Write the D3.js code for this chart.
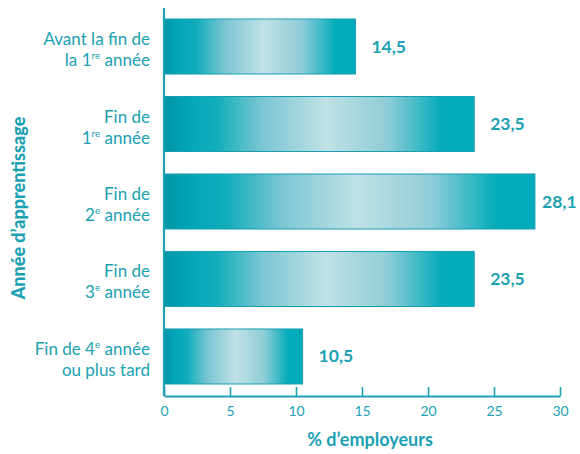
<!DOCTYPE html>
<html><head><meta charset="utf-8">
<script src="https://cdn.jsdelivr.net/npm/d3@7"></script>
<style>body{margin:0;background:#fff}svg{display:block}</style>
</head><body>
<svg id="c" width="580" height="454"></svg>
<script>
const categories = [
  [["Avant la fin de"], ["la 1", "re", " année"]],
  [["Fin de"], ["1", "re", " année"]],
  [["Fin de"], ["2", "e", " année"]],
  [["Fin de"], ["3", "e", " année"]],
  [["Fin de 4", "e", " année"], ["ou plus tard"]]
];
const values = [14.5, 23.5, 28.1, 23.5, 10.5];
const valueLabels = ["14,5", "23,5", "28,1", "23,5", "10,5"];
const xTicks = [0, 5, 10, 15, 20, 25, 30];
const xTitle = "% d’employeurs";
const yTitle = "Année d’apprentissage";

const teal = "#1ba1b3";
const font = "Lato, 'Open Sans', sans-serif";
const svg = d3.select("#c");
const x0 = 164, x1 = 560, yTop = 8, yBot = 396;
const x = d3.scaleLinear().domain([0, 30]).range([x0, x1]);
const y = d3.scaleBand().domain(d3.range(values.length)).range([8.15, 394.85]).paddingInner(0.29).paddingOuter(0.14);

const defs = svg.append("defs");
const g = defs.append("linearGradient").attr("id", "bg").attr("x1", 0).attr("x2", 1).attr("y1", 0).attr("y2", 0);
[[0, "#0095a7"], [0.08, "#00a6b7"], [0.17, "#12adbc"], [0.32, "#7cc7d2"], [0.52, "#c0e1e7"], [0.72, "#8fcdd7"], [0.9, "#00abba"], [1, "#00abba"]]
  .forEach(([o, c]) => g.append("stop").attr("offset", o).attr("stop-color", c));

svg.selectAll("rect.bar").data(values).join("rect").attr("class", "bar")
  .attr("x", x(0)).attr("y", (d, i) => y(i))
  .attr("width", d => x(d) - x(0)).attr("height", y.bandwidth())
  .attr("fill", "url(#bg)").attr("stroke", "#1a9db0").attr("stroke-width", 1);

// axes lines
svg.append("line").attr("x1", x0).attr("x2", x0).attr("y1", yTop).attr("y2", yBot)
  .attr("stroke", teal).attr("stroke-width", 2.2);
const xAxis = d3.axisBottom(x).tickValues(xTicks).tickSize(-9).tickSizeOuter(0).tickFormat(d => d);
const ax = svg.append("g").attr("transform", `translate(0,${yBot})`).call(xAxis);
ax.select(".domain").attr("stroke", teal).attr("stroke-width", 2.2);
ax.selectAll(".tick line").attr("stroke", teal).attr("stroke-width", 1.6);
ax.selectAll(".tick text").attr("fill", teal).attr("font-family", font).attr("font-size", 14).attr("dy", null).attr("y", 20);

// value labels
svg.selectAll("text.val").data(values).join("text").attr("class", "val")
  .attr("x", d => Math.min(x(d) + 16, 542)).attr("y", (d, i) => y(i) + y.bandwidth() / 2 + 6)
  .attr("fill", teal).attr("font-family", font).attr("font-weight", "bold").attr("font-size", 17.5)
  .text((d, i) => valueLabels[i]);

// category labels
categories.forEach((lines, i) => {
  const cy = y(i) + y.bandwidth() / 2;
  lines.forEach((parts, li) => {
    const t = svg.append("text").attr("x", 150).attr("y", cy - 1.5 + (li ? 21 : 0))
      .attr("text-anchor", "end").attr("fill", teal).attr("font-family", font).attr("font-size", 17);
    parts.forEach((p, pi) => {
      const ts = t.append("tspan").text(p);
      if (parts.length === 3 && pi === 1) ts.attr("font-size", 10).attr("dy", -7);
      if (parts.length === 3 && pi === 2) ts.attr("dy", 7);
    });
  });
});

svg.append("text").attr("transform", "translate(25,208) rotate(-90)").attr("text-anchor", "middle")
  .attr("fill", teal).attr("font-family", font).attr("font-weight", 900).attr("font-size", 18).text(yTitle);
svg.append("text").attr("x", 370).attr("y", 446).attr("text-anchor", "middle")
  .attr("fill", teal).attr("font-family", font).attr("font-weight", "bold").attr("font-size", 18).text(xTitle);
</script>
</body></html>
